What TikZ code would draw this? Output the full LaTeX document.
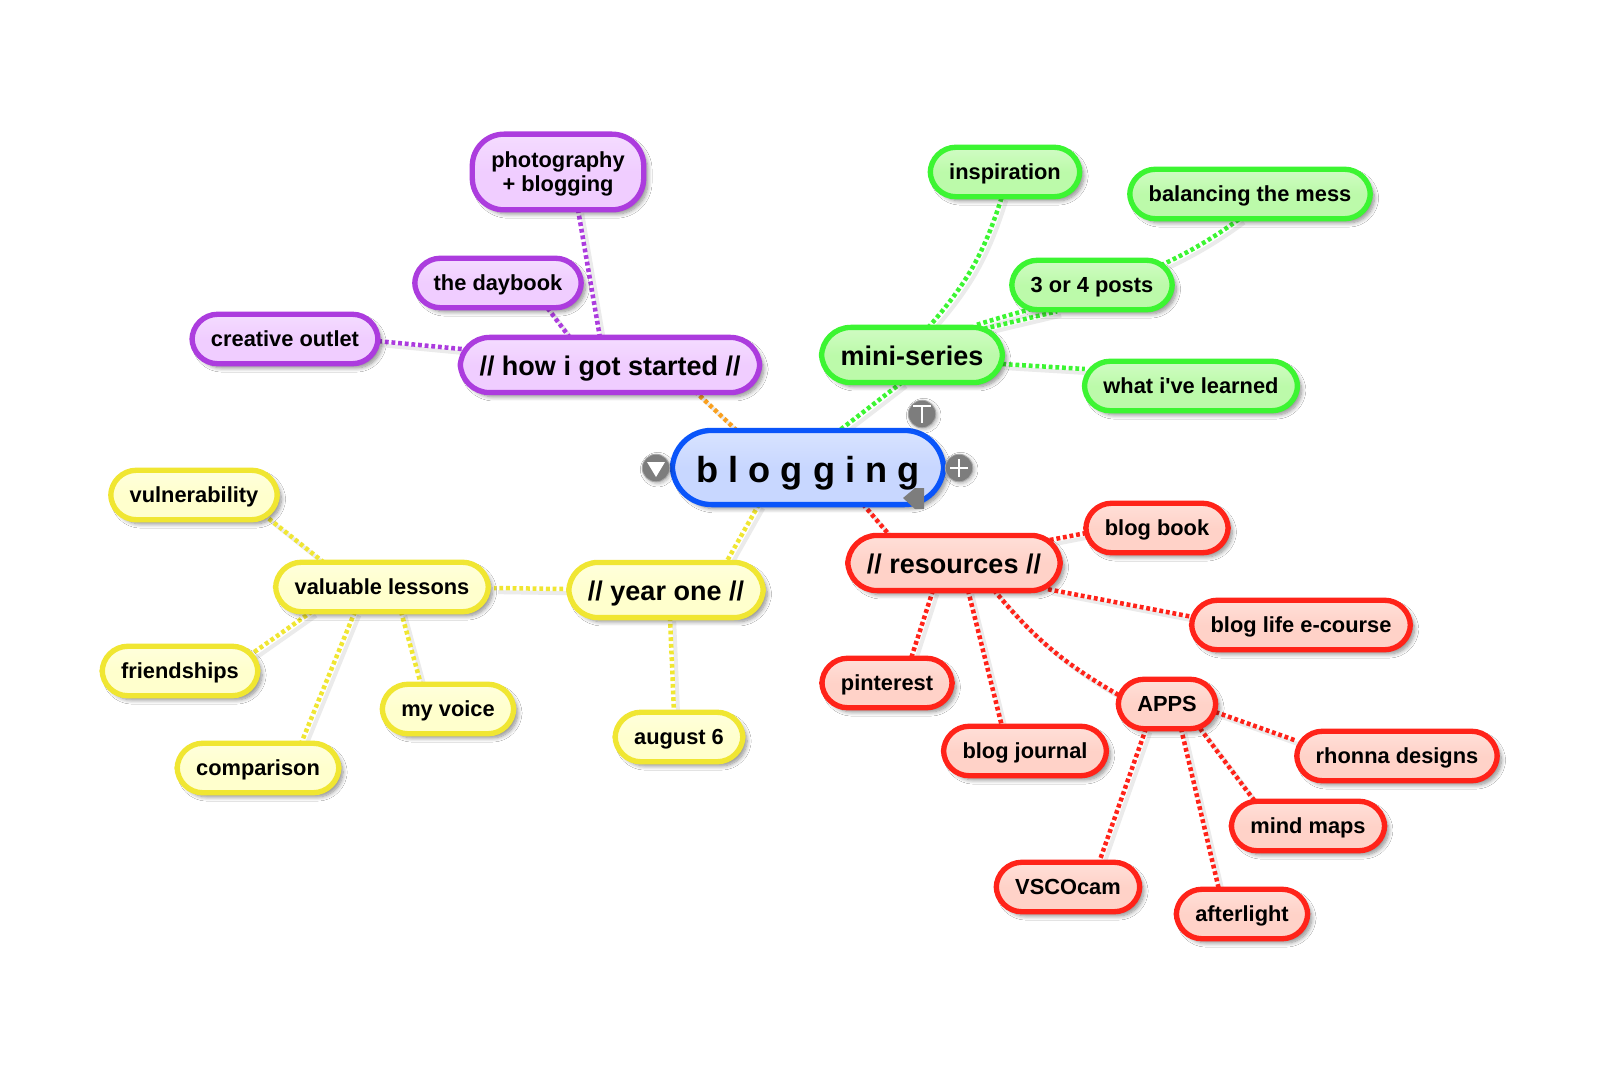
\documentclass[tikz,border=0pt]{standalone}
\usepackage{fontspec}
\setmainfont[Ligatures=TeXOff]{Liberation Sans}
\definecolor{mapblue1}{RGB}{10, 85, 250}
\definecolor{mapblue3}{RGB}{200, 215, 255}
\definecolor{mappurple1}{RGB}{172, 60, 222}
\definecolor{mappurple3}{RGB}{240, 205, 255}
\definecolor{mapgreen1}{RGB}{60, 245, 50}
\definecolor{mapgreen3}{RGB}{188, 250, 170}
\definecolor{mapyellow1}{RGB}{240, 230, 50}
\definecolor{mapyellow3}{RGB}{255, 255, 205}
\definecolor{mapred1}{RGB}{255, 35, 25}
\definecolor{mapred3}{RGB}{255, 210, 200}
\definecolor{maporange1}{RGB}{250, 160, 30}
\definecolor{mapgray}{RGB}{125, 125, 125}
\usetikzlibrary{arrows.meta, positioning, calc, backgrounds, shadows.blur}
\tikzset{
  % Generic topic with a coloured border (#1 = border, #2 = fill).
  topic/.style 2 args={
    rectangle, rounded corners=15.5pt,
    draw=#1, line width=3.2pt,
    top color=#2!70!white, bottom color=#2, middle color=#2,
    inner xsep=11.4pt, inner ysep=0pt,
    minimum height=29.7pt,
    text height=8.6pt, text depth=0pt,
    align=center,
    font=\fontsize{13.1}{14.4}\selectfont\bfseries,
    text=black,
    blur shadow={shadow xshift=2.5pt, shadow yshift=-2.5pt, shadow blur radius=2.5pt, shadow blur steps=8, shadow opacity=45},
  },
  topic-purple/.style={topic={mappurple1}{mappurple3}},
  topic-green/.style ={topic={mapgreen1}{mapgreen3}},
  topic-yellow/.style={topic={mapyellow1}{mapyellow3}},
  topic-red/.style   ={topic={mapred1}{mapred3}},
  % Main branches are set larger.
  branch/.style={
    minimum height=33.1pt, rounded corners=17.5pt, inner xsep=11.5pt,
    text height=12.2pt,
    font=\fontsize{16.2}{18}\selectfont\bfseries,
  },
  % Central topic.
  hub/.style={
    topic={mapblue1}{mapblue3}, rounded corners=23.5pt,
    minimum height=44.5pt, inner xsep=14.5pt,
    text height=17.4pt,
    font=\fontsize{21.7}{24}\selectfont\bfseries,
  },
  % Dotted links, with a faint shadow underneath.
  link/.style={
    draw=#1, line width=2.7pt, dash pattern=on 2.3pt off 1.7pt,
    preaction={draw=black!8, solid, line width=2.4pt, transform canvas={shift={(2.5pt,-2.5pt)}}},
  },
  % Round tool buttons on the central topic.
  tool/.style={
    circle, draw=black!35, line width=0.5pt, fill=mapgray,
    minimum size=16.5pt, inner sep=0pt,
    blur shadow={shadow xshift=1pt, shadow yshift=-1pt, shadow blur steps=4, shadow opacity=30},
  },
  tool-mark/.style={draw=white, line width=1.6pt},
}

\begin{document}
\begin{tikzpicture}[x=0.6pt, y=-0.6pt]

  \useasboundingbox (0,0) rectangle (1600,1072);

  % Central topic.
  \node[hub] (blogging) at (808,467.5) {b l o g g i n g};

  % Purple branch.
  \node[topic-purple, branch] (started) at (610,365) {// how i got started //};
  \node[topic-purple, minimum height=45.4pt, rounded corners=19pt, text height=23.4pt] (photo) at (558,172) {photography\\+ blogging};
  \node[topic-purple] (daybook) at (498,283) {the daybook};
  \node[topic-purple] (outlet) at (285,339) {creative outlet};

  % Green branch.
  \node[topic-green, branch] (series) at (912,355) {mini-series};
  \node[topic-green] (inspiration) at (1005,172) {inspiration};
  \node[topic-green] (mess) at (1250,194) {balancing the mess};
  \node[topic-green] (posts) at (1092,285) {3 or 4 posts};
  \node[topic-green] (learned) at (1191,386) {what i've learned};

  % Yellow branch.
  \node[topic-yellow, branch] (yearone) at (666,590) {// year one //};
  \node[topic-yellow] (lessons) at (382,587) {valuable lessons};
  \node[topic-yellow] (vulnerability) at (194,495) {vulnerability};
  \node[topic-yellow] (friendships) at (180,671) {friendships};
  \node[topic-yellow] (comparison) at (258,768) {comparison};
  \node[topic-yellow] (voice) at (448,709) {my voice};
  \node[topic-yellow] (august) at (679,737) {august 6};

  % Red branch.
  \node[topic-red, branch] (resources) at (954,563) {// resources //};
  \node[topic-red] (book) at (1157,528) {blog book};
  \node[topic-red] (course) at (1301,625) {blog life e-course};
  \node[topic-red] (pinterest) at (887,683) {pinterest};
  \node[topic-red] (journal) at (1025,751) {blog journal};
  \node[topic-red] (apps) at (1167,704) {APPS};
  \node[topic-red] (rhonna) at (1397,756) {rhonna designs};
  \node[topic-red] (maps) at (1308,826) {mind maps};
  \node[topic-red] (afterlight) at (1242,914) {afterlight};
  \node[topic-red] (vsco) at (1068,887) {VSCOcam};

  % Tool buttons.
  \node[tool] (tooltext) at (922,414) {};
  \node[tool] (toolfold) at (656,468) {};
  \node[tool] (tooladd) at (959,468) {};
  \draw[tool-mark] ([shift={(-9,-8)}]tooltext.center) -- ([shift={(9,-8)}]tooltext.center);
  \draw[tool-mark] ([shift={(0,-8)}]tooltext.center) -- ([shift={(0,9)}]tooltext.center);
  \draw[tool-mark] ([shift={(-9,0)}]tooladd.center) -- ([shift={(9,0)}]tooladd.center);
  \draw[tool-mark] ([shift={(0,-9)}]tooladd.center) -- ([shift={(0,9)}]tooladd.center);
  \fill[white] ([shift={(-9,-6)}]toolfold.center) -- ([shift={(9,-6)}]toolfold.center) -- ([shift={(0,9)}]toolfold.center) -- cycle;
  \fill[mapgray] (903,498) -- (915,488) -- (924,488) -- (924,509) -- (915,509) -- cycle;

  % Links stay behind the topics.
  \begin{scope}[on background layer]
    \fill[white] (0,0) rectangle (1600,1072);

    \draw[link=maporange1] ([shift={(85,-4)}]started.south) -- ([shift={(-70,4)}]blogging.north);
    \draw[link=mapgreen1] ([shift={(-10,-3)}]series.south) -- ([shift={(31,3)}]blogging.north);
    \draw[link=mapyellow1] ([shift={(-49,-3)}]blogging.south) -- ([shift={(60,3)}]yearone.north);
    \draw[link=mapred1] ([shift={(55,-3)}]blogging.south) -- ([shift={(-64,3)}]resources.north);

    \draw[link=mappurple1] ([shift={(-10,3)}]started.north) -- ([shift={(20,-3)}]photo.south);
    \draw[link=mappurple1] ([shift={(-40,3)}]started.north) -- ([shift={(49,-3)}]daybook.south);
    \draw[link=mappurple1] ([shift={(4,-16)}]started.west) -- ([shift={(-4,2)}]outlet.east);

    \draw[link=mapgreen1] ([shift={(16,3)}]series.north) to[bend right=12] ([shift={(-3,-3)}]inspiration.south);
    \draw[link=mapgreen1] ([shift={(65,0)}]series.north) .. controls +(85,-27) and +(-90,67) .. ([shift={(-10,-3)}]mess.south);
    \draw[link=mapgreen1] ([shift={(72,4)}]series.north) -- ([shift={(-35,-1)}]posts.south);
    \draw[link=mapgreen1] ([shift={(-3,9)}]series.east) -- ([shift={(3,-17)}]learned.west);

    \draw[link=mapyellow1] ([shift={(-3,-1)}]yearone.west) -- ([shift={(3,1)}]lessons.east);
    \draw[link=mapyellow1] ([shift={(4,-3)}]yearone.south) -- ([shift={(-5,3)}]august.north);
    \draw[link=mapyellow1] ([shift={(-58,3)}]lessons.north) -- ([shift={(72,-6)}]vulnerability.south);
    \draw[link=mapyellow1] ([shift={(-70,-3)}]lessons.south) -- ([shift={(72,10)}]friendships.north);
    \draw[link=mapyellow1] ([shift={(-27,-3)}]lessons.south) -- ([shift={(43,3)}]comparison.north);
    \draw[link=mapyellow1] ([shift={(19,-3)}]lessons.south) -- ([shift={(-27,3)}]voice.north);

    \draw[link=mapred1] ([shift={(-13,-23)}]resources.east) -- ([shift={(3,5)}]book.west);
    \draw[link=mapred1] ([shift={(94,-4)}]resources.south) -- ([shift={(4,-8)}]course.west);
    \draw[link=mapred1] ([shift={(-21,-3)}]resources.south) -- ([shift={(24,3)}]pinterest.north);
    \draw[link=mapred1] ([shift={(14,-3)}]resources.south) -- ([shift={(-23,3)}]journal.north);
    \draw[link=mapred1] ([shift={(40,-3)}]resources.south) to[bend right=10] ([shift={(3,-9)}]apps.west);
    \draw[link=mapred1] ([shift={(-3,8)}]apps.east) -- ([shift={(3,-15)}]rhonna.west);
    \draw[link=mapred1] ([shift={(33,-3)}]apps.south) -- ([shift={(-53,3)}]maps.north);
    \draw[link=mapred1] ([shift={(14,-3)}]apps.south) -- ([shift={(-23,3)}]afterlight.north);
    \draw[link=mapred1] ([shift={(-21,-3)}]apps.south) -- ([shift={(31,3)}]vsco.north);
  \end{scope}

\end{tikzpicture}
\end{document}
